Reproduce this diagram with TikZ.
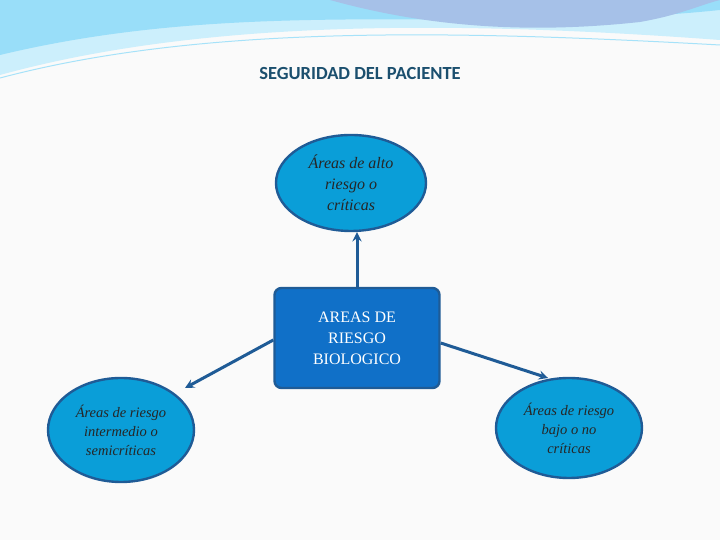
\documentclass[tikz,border=0pt]{standalone}
\usepackage{fontspec}
\setmainfont{Liberation Serif}
\setsansfont{Carlito}
\usetikzlibrary{shapes.geometric, arrows, positioning}
\definecolor{areafill}{HTML}{0A9ED8}
\definecolor{areaedge}{HTML}{1F5B96}
\definecolor{corefill}{HTML}{1070C8}
\definecolor{titleblue}{HTML}{1B4F6E}
\tikzstyle{area} = [ellipse, draw=areaedge, line width=2.4pt, fill=areafill, align=center, inner sep=0pt, font=\itshape\fontsize{14.5}{19}\selectfont, text=black!85]
\tikzstyle{arrow} = [line width=3pt, draw=areaedge, ->, >=stealth]

\begin{document}
\begin{tikzpicture}[x=1pt, y=1pt]
\useasboundingbox (0,0) rectangle (720,540);
\fill[black!2] (0,0) rectangle (720,540);

% Banner
\fill[cyan!20] (0,540) -- (0,465) .. controls (200,520) and (450,520) .. (720,500) -- (720,540) -- cycle;
\fill[cyan!40] (0,540) -- (0,485) .. controls (250,545) and (480,505) .. (720,530) -- (720,540) -- cycle;
\fill[cyan!55!blue!35] (330,540) .. controls (420,515) and (520,505) .. (640,518) .. controls (680,525) and (700,535) .. (720,540) -- cycle;
\draw[cyan!35, line width=1pt] (0,462) .. controls (200,515) and (450,510) .. (720,495);

% Nodes
\node (title) at (360,466) {\sffamily\bfseries\fontsize{18.5}{22}\selectfont\color{titleblue}SEGURIDAD DEL PACIENTE};
\node (core) [draw=areaedge, line width=2.4pt, fill=corefill, rounded corners=7pt, minimum width=165pt, minimum height=100pt, align=center, text=white, font=\fontsize{16}{21}\selectfont] at (357,202) {AREAS DE\\RIESGO\\BIOLOGICO};
\node (high) [area, minimum width=150pt, minimum height=96pt, font=\itshape\fontsize{16}{21}\selectfont] at (351,357) {Áreas de alto\\riesgo o\\críticas};
\node (mid) [area, minimum width=146pt, minimum height=104pt] at (121,110) {Áreas de riesgo\\intermedio o\\semicríticas};
\node (low) [area, minimum width=146pt, minimum height=100pt] at (569,112) {Áreas de riesgo\\bajo o no\\críticas};

% Arrows
\coordinate (midtip) at (185,152);
\coordinate (lowtip) at (548,162);
\draw [arrow] (core.north) -- (high.south -| core.north);
\draw [arrow] ([yshift=-2pt]core.west) -- (midtip);
\draw [arrow] ([yshift=-5pt]core.east) -- (lowtip);
\end{tikzpicture}
\end{document}
